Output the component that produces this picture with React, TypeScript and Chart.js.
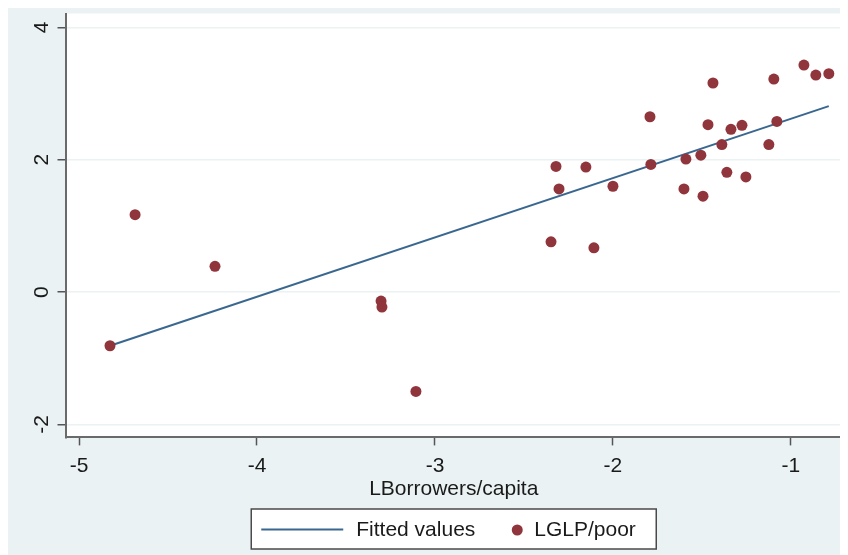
import React, { useEffect, useRef } from "react";
import { Chart, registerables } from "chart.js";

Chart.register(...registerables);

// ---- data ----
const borrowersX = [
  -4.826, -4.685, -4.236, -3.303, -3.298, -3.107, -2.348, -2.32, -2.303, -2.152,
  -2.107, -2.0, -1.792, -1.787, -1.601, -1.59, -1.506, -1.494, -1.466, -1.438,
  -1.388, -1.36, -1.337, -1.275, -1.253, -1.124, -1.096, -1.079, -0.927, -0.86,
  -0.787,
];
const lglpY = [
  -0.81, 1.17, 0.39, -0.135, -0.225, -1.5, 0.76, 1.9, 1.56, 1.89,
  0.67, 1.6, 2.65, 1.93, 1.56, 2.01, 2.07, 1.45, 2.53, 3.16,
  2.23, 1.81, 2.46, 2.52, 1.74, 2.23, 3.22, 2.58, 3.43, 3.28,
  3.3,
];
const fittedX = [-4.826, -0.787];
const fittedY = [-0.81, 2.81];
const xTicks = [-5, -4, -3, -2, -1];
const yTicks = [-2, 0, 2, 4];
const xTitle = "LBorrowers/capita";
const fittedLabel = "Fitted values";
const scatterLabel = "LGLP/poor";

const FONT = "'Liberation Sans', Arial, sans-serif";
const BG = "#eaf2f3";
const NAVY = "#3a6790";
const MAROON = "#90353b";
const TEXT = "#1a1a1a";

const bgPlugin = {
  id: "stataBg",
  beforeDraw(chart: any) {
    const { ctx, width, height, chartArea } = chart;
    ctx.save();
    ctx.fillStyle = BG;
    ctx.fillRect(0, 0, width, height);
    ctx.fillStyle = "#ffffff";
    ctx.fillRect(chartArea.left, chartArea.top, chartArea.right - chartArea.left, chartArea.bottom - chartArea.top);
    ctx.restore();
  },
};

const legendPlugin = {
  id: "stataLegend",
  afterDraw(chart: any) {
    const { ctx, chartArea } = chart;
    const cx = (chartArea.left + chartArea.right) / 2;
    const bw = 405;
    const bh = 40;
    const bx = cx - bw / 2;
    const by = 501;
    ctx.save();
    ctx.fillStyle = "#ffffff";
    ctx.fillRect(bx, by, bw, bh);
    ctx.strokeStyle = "#4a4a4a";
    ctx.lineWidth = 1.5;
    ctx.strokeRect(bx, by, bw, bh);
    // line sample
    ctx.strokeStyle = NAVY;
    ctx.lineWidth = 2;
    ctx.beginPath();
    ctx.moveTo(bx + 10, by + 20.5);
    ctx.lineTo(bx + 92, by + 20.5);
    ctx.stroke();
    ctx.fillStyle = TEXT;
    ctx.font = `21px ${FONT}`;
    ctx.textBaseline = "middle";
    ctx.textAlign = "left";
    ctx.fillText(fittedLabel, bx + 105, by + 21);
    // marker sample
    ctx.fillStyle = MAROON;
    ctx.beginPath();
    ctx.arc(bx + 266, by + 21, 5.5, 0, Math.PI * 2);
    ctx.fill();
    ctx.fillStyle = TEXT;
    ctx.fillText(scatterLabel, bx + 283, by + 21);
    ctx.restore();
  },
};

export default function App() {
  const ref = useRef<HTMLCanvasElement | null>(null);

  useEffect(() => {
    if (!ref.current) return;
    const scatterData = borrowersX.map((x, i) => ({ x, y: lglpY[i] }));
    const fitData = fittedX.map((x, i) => ({ x, y: fittedY[i] }));
    const chart = new Chart(ref.current, {
      type: "scatter",
      data: {
        datasets: [
          {
            type: "scatter",
            label: scatterLabel,
            data: scatterData,
            backgroundColor: MAROON,
            borderWidth: 0,
            pointRadius: 5.5,
            order: 0,
          } as any,
          {
            type: "line",
            label: fittedLabel,
            data: fitData,
            borderColor: NAVY,
            borderWidth: 2,
            pointRadius: 0,
            fill: false,
            tension: 0,
            order: 1,
          } as any,
        ],
      },
      options: {
        responsive: true,
        maintainAspectRatio: false,
        animation: false,
        layout: { padding: { top: 2, right: 6, left: 0, bottom: 53 } },
        plugins: {
          legend: { display: false },
          tooltip: { enabled: false },
        },
        scales: {
          x: {
            type: "linear",
            min: -5.076,
            max: -0.713,
            afterBuildTicks: (s: any) => {
              s.ticks = xTicks.map((v) => ({ value: v }));
            },
            afterFit: (s: any) => {
              s.height = 64.6;
              s.paddingLeft = 0;
              s.paddingRight = 0;
            },
            grid: {
              drawOnChartArea: false,
              tickLength: 8,
              tickColor: "#555",
              tickWidth: 1.5,
            },
            border: { color: "#6a6a6a", width: 2 },
            ticks: {
              font: { family: FONT, size: 21 },
              color: TEXT,
              padding: 8,
              maxRotation: 0,
              autoSkip: false,
              callback: (v: any) => String(v),
            },
            title: {
              display: true,
              text: xTitle,
              font: { family: FONT, size: 21 },
              color: TEXT,
              padding: 0,
            },
          },
          y: {
            type: "linear",
            min: -2.195,
            max: 4.21,
            afterBuildTicks: (s: any) => {
              s.ticks = yTicks.map((v) => ({ value: v }));
            },
            afterFit: (s: any) => {
              s.width = 57.5;
              s.paddingTop = 0;
              s.paddingBottom = 0;
            },
            grid: {
              color: BG,
              lineWidth: 1.5,
              tickLength: 8,
              tickColor: "#555",
              tickWidth: 1.5,
            },
            border: { color: "#6a6a6a", width: 2 },
            ticks: {
              font: { family: FONT, size: 21 },
              color: TEXT,
              padding: 6,
              minRotation: 90,
              maxRotation: 90,
              crossAlign: "center",
              autoSkip: false,
              callback: (v: any) => String(v),
            },
          },
        },
      } as any,
      plugins: [bgPlugin, legendPlugin],
    });
    return () => chart.destroy();
  }, []);

  return (
    <div style={{ position: "relative", width: 840, height: 547 }}>
      <canvas ref={ref} />
    </div>
  );
}
